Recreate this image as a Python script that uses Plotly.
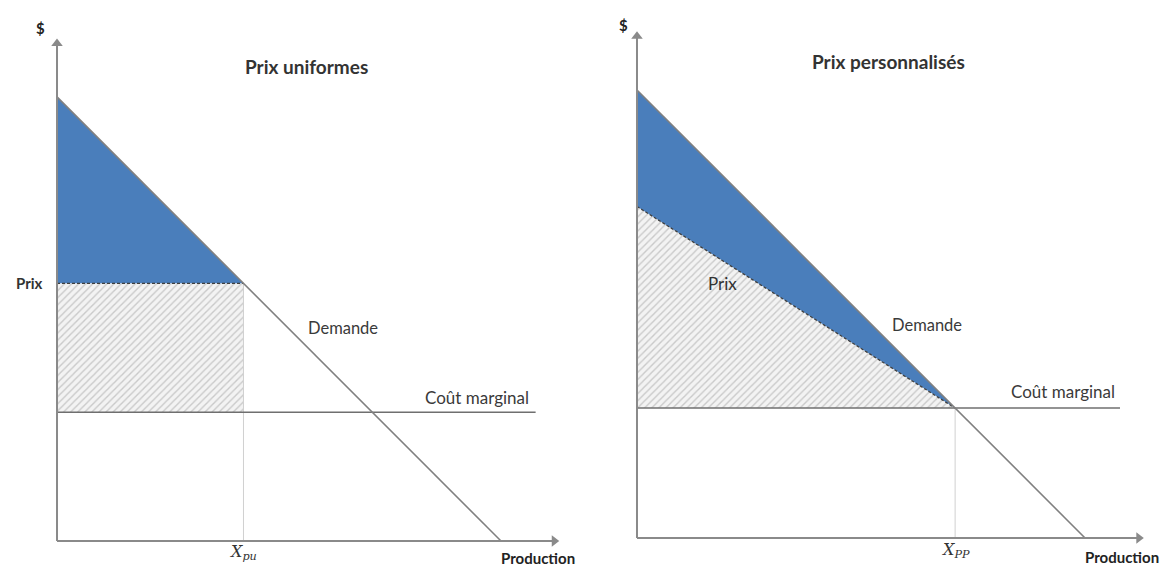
import plotly.graph_objects as go

# ---- data (abstract units) ----
demand_intercept = 10.0      # price intercept = quantity intercept of demand
marginal_cost = 2.9
uniform_price = 5.8
x_pu = demand_intercept - uniform_price
x_pp = demand_intercept - marginal_cost
perso_price_intercept = 7.4
mc_end = 10.78
axis_x_max = 11.2
axis_y_max = 11.2

titles = ["Prix uniformes", "Prix personnalisés"]

GRAY = "#808080"
AXIS = "#8a8a8a"
BLUE = "#4a7ebb"
FONT = "Lato"

fig = go.Figure()

def line(xr, yr, xs, ys, color, width, dash=None):
    fig.add_trace(go.Scatter(x=xs, y=ys, xaxis=xr, yaxis=yr, mode="lines",
                             line=dict(color=color, width=width, dash=dash),
                             hoverinfo="skip", showlegend=False))

def add_panel(xr, yr, kind):
    if kind == "u":
        hx = [0, x_pu, x_pu, 0, 0]
        hy = [marginal_cost, marginal_cost, uniform_price, uniform_price, marginal_cost]
        bx = [0, 0, x_pu, 0]
        by = [demand_intercept, uniform_price, uniform_price, demand_intercept]
        dx = [0, x_pu]
        dy = [uniform_price, uniform_price]
        vx = [x_pu, x_pu]
        vy = [0, uniform_price]
    else:
        hx = [0, 0, x_pp, 0]
        hy = [marginal_cost, perso_price_intercept, marginal_cost, marginal_cost]
        bx = [0, 0, x_pp, 0]
        by = [demand_intercept, perso_price_intercept, marginal_cost, demand_intercept]
        dx = [0, x_pp]
        dy = [perso_price_intercept, marginal_cost]
        vx = [x_pp, x_pp]
        vy = [0, marginal_cost]
    # hatched area
    fig.add_trace(go.Scatter(x=hx, y=hy, xaxis=xr, yaxis=yr, mode="lines",
                             line=dict(width=0), fill="toself",
                             fillcolor="rgba(255,255,255,0)",
                             fillpattern=dict(shape="/", fgcolor="#a0a0a0", bgcolor="#f3f3f3",
                                              size=5, solidity=0.28),
                             hoverinfo="skip", showlegend=False))
    # blue surplus
    fig.add_trace(go.Scatter(x=bx, y=by, xaxis=xr, yaxis=yr, mode="lines",
                             line=dict(width=0), fill="toself", fillcolor=BLUE,
                             hoverinfo="skip", showlegend=False))
    line(xr, yr, vx, vy, "#d0d0d0", 1)
    line(xr, yr, dx, dy, "#404040", 1.3, "3px,2px")
    line(xr, yr, [0, mc_end], [marginal_cost, marginal_cost], "#6f6f6f", 1.5)
    line(xr, yr, [0, demand_intercept], [demand_intercept, 0], GRAY, 1.6)
    # axes with arrowheads
    line(xr, yr, [0, axis_x_max], [0, 0], AXIS, 2)
    line(xr, yr, [0, 0], [0, axis_y_max], AXIS, 2)
    fig.add_trace(go.Scatter(x=[axis_x_max], y=[0], xaxis=xr, yaxis=yr, mode="markers",
                             marker=dict(symbol="triangle-right", size=10, color=AXIS),
                             hoverinfo="skip", showlegend=False))
    fig.add_trace(go.Scatter(x=[0], y=[axis_y_max], xaxis=xr, yaxis=yr, mode="markers",
                             marker=dict(symbol="triangle-up", size=10, color=AXIS),
                             hoverinfo="skip", showlegend=False))

add_panel("x", "y", "u")
add_panel("x2", "y2", "p")

ann = []

def txt(xr, yr, x, y, t, size=15, bold=False, color="#3a3a3a", family=FONT):
    ann.append(dict(x=x, y=y, xref=xr, yref=yr, text=(f"<b>{t}</b>" if bold else t),
                    showarrow=False, font=dict(family=family, size=size, color=color),
                    xanchor="center", yanchor="middle"))

# left panel texts
txt("x", "y", -0.38, 11.55, "$", 15, True, "#222")
txt("x", "y", 5.63, 10.68, titles[0], 19, True, "#333")
txt("x", "y", -0.61, uniform_price, "Prix", 15, True, "#333")
txt("x", "y", 6.45, 4.8, "Demande", 16.5)
txt("x", "y", 9.47, 3.24, "Coût marginal", 17)
txt("x", "y", x_pu, -0.27, "<i>X</i><sub><i>pu</i></sub>", 16, False, "#333", "DejaVu Serif")
txt("x", "y", 10.83, -0.38, "Production", 15, True, "#222")

# right panel texts
txt("x2", "y2", -0.31, 11.45, "$", 15, True, "#222")
txt("x2", "y2", 5.61, 10.63, titles[1], 19, True, "#333")
txt("x2", "y2", 1.9, 5.67, "Prix", 17, False, "#333")
txt("x2", "y2", 6.47, 4.75, "Demande", 16.5)
txt("x2", "y2", 9.51, 3.26, "Coût marginal", 17)
txt("x2", "y2", x_pp, -0.29, "<i>X</i><sub><i>PP</i></sub>", 16, False, "#333", "DejaVu Serif")
txt("x2", "y2", 10.82, -0.42, "Production", 15, True, "#222")

hidden = dict(visible=False, showgrid=False, zeroline=False, fixedrange=True)
# the page body adds an 8px offset; ranges are set so the drawing lands at the reference pixels
fig.update_layout(
    width=1168, height=567,
    margin=dict(l=0, r=0, t=0, b=0),
    paper_bgcolor="white", plot_bgcolor="white",
    xaxis=dict(domain=[0, 0.5], range=[-1.104, 12.05], **hidden),
    yaxis=dict(domain=[0, 1], range=[-0.766, 12.0], **hidden),
    xaxis2=dict(domain=[0.5, 1], range=[-1.004, 12.03], **hidden),
    yaxis2=dict(domain=[0, 1], range=[-0.826, 11.83], **hidden),
    annotations=ann,
    showlegend=False,
)

fig.write_html("out.html")
